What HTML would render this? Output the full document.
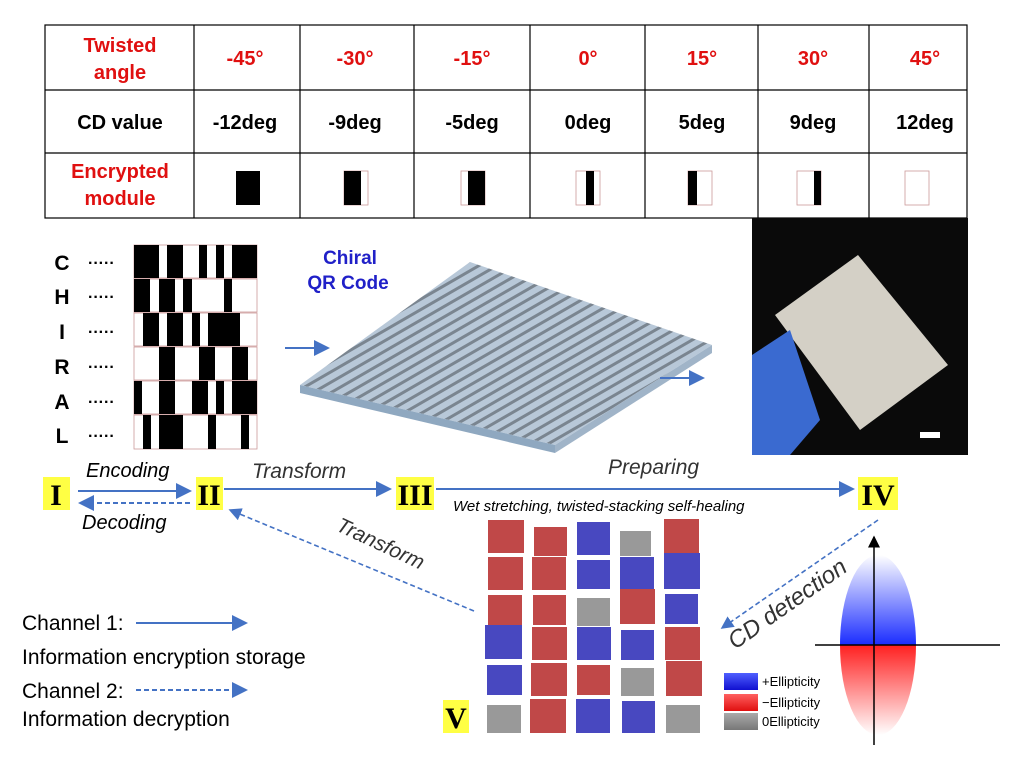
<!DOCTYPE html>
<html><head><meta charset="utf-8"><style>
body{margin:0;background:#fff;}
</style></head><body>
<svg width="1024" height="758" viewBox="0 0 1024 758" xmlns="http://www.w3.org/2000/svg" font-family="Liberation Sans, sans-serif">
<defs>
<linearGradient id="el" x1="0" y1="0" x2="0" y2="1">
<stop offset="0" stop-color="#fff"/><stop offset="0.5" stop-color="#1a2cff"/><stop offset="0.5" stop-color="#ff2020"/><stop offset="1" stop-color="#fff"/></linearGradient>
<linearGradient id="lb" x1="0" y1="0" x2="0" y2="1"><stop offset="0" stop-color="#5060ff"/><stop offset="1" stop-color="#1010d0"/></linearGradient>
<linearGradient id="lr" x1="0" y1="0" x2="0" y2="1"><stop offset="0" stop-color="#ff6060"/><stop offset="1" stop-color="#e01010"/></linearGradient>
<linearGradient id="lg" x1="0" y1="0" x2="0" y2="1"><stop offset="0" stop-color="#aaa"/><stop offset="1" stop-color="#777"/></linearGradient>
<pattern id="st" width="9" height="9" patternUnits="userSpaceOnUse" patternTransform="rotate(-30)">
<rect width="9" height="9" fill="#b8c8d8"/><rect width="9" height="3" fill="#7a8590"/></pattern>
<marker id="ah" markerWidth="8" markerHeight="8" refX="7" refY="4" orient="auto"><path d="M0,0 L8,4 L0,8z" fill="#4472c4"/></marker>
<marker id="ak" markerWidth="8" markerHeight="8" refX="7" refY="4" orient="auto"><path d="M0,0 L8,4 L0,8z" fill="#000"/></marker>
</defs>
<!-- table -->
<g stroke="#000" stroke-width="1.2" fill="none">
<rect x="45" y="25" width="922" height="193"/>
<line x1="45" y1="90" x2="967" y2="90"/><line x1="45" y1="153" x2="967" y2="153"/>
<line x1="194" y1="25" x2="194" y2="218"/><line x1="300" y1="25" x2="300" y2="218"/>
<line x1="414" y1="25" x2="414" y2="218"/><line x1="530" y1="25" x2="530" y2="218"/>
<line x1="645" y1="25" x2="645" y2="218"/><line x1="758" y1="25" x2="758" y2="218"/>
<line x1="869" y1="25" x2="869" y2="218"/>
</g>
<g font-size="20" font-weight="bold" fill="#e01010" text-anchor="middle">
<text x="120" y="52">Twisted</text><text x="120" y="79">angle</text>
<text x="245" y="65">-45°</text><text x="355" y="65">-30°</text><text x="472" y="65">-15°</text><text x="588" y="65">0°</text><text x="702" y="65">15°</text><text x="813" y="65">30°</text><text x="925" y="65">45°</text>
<text x="120" y="178">Encrypted</text><text x="120" y="205">module</text>
</g>
<g font-size="20" font-weight="bold" fill="#000" text-anchor="middle">
<text x="120" y="129">CD value</text><text x="245" y="129">-12deg</text><text x="355" y="129">-9deg</text><text x="472" y="129">-5deg</text><text x="588" y="129">0deg</text><text x="702" y="129">5deg</text><text x="813" y="129">9deg</text><text x="925" y="129">12deg</text>
</g>
<g stroke="#c99" stroke-width="0.8">
<rect x="236" y="171" width="24" height="34" fill="#000" stroke="none"/>
<rect x="344" y="171" width="24" height="34" fill="#fff"/><rect x="344" y="171" width="17" height="34" fill="#000" stroke="none"/>
<rect x="461" y="171" width="24" height="34" fill="#fff"/><rect x="468" y="171" width="17" height="34" fill="#000" stroke="none"/>
<rect x="576" y="171" width="24" height="34" fill="#fff"/><rect x="586" y="171" width="8" height="34" fill="#000" stroke="none"/>
<rect x="688" y="171" width="24" height="34" fill="#fff"/><rect x="688" y="171" width="9" height="34" fill="#000" stroke="none"/>
<rect x="797" y="171" width="24" height="34" fill="#fff"/><rect x="814" y="171" width="7" height="34" fill="#000" stroke="none"/>
<rect x="905" y="171" width="24" height="34" fill="#fff"/>
</g>
<!-- letters -->
<g font-size="21" font-weight="bold" text-anchor="middle">
<text x="62" y="270">C</text><text x="62" y="304">H</text><text x="62" y="339">I</text><text x="62" y="374">R</text><text x="62" y="409">A</text><text x="62" y="443">L</text></g>
<g font-size="16" font-weight="bold"><text x="88" y="268">·····</text><text x="88" y="302">·····</text><text x="88" y="337">·····</text><text x="88" y="372">·····</text><text x="88" y="407">·····</text><text x="88" y="441">·····</text></g>
<!-- barcode -->
<g fill="#fff" stroke="#c99" stroke-width="0.8">
<rect x="134" y="245" width="123" height="33"/><rect x="134" y="279" width="123" height="33"/><rect x="134" y="313" width="123" height="33"/><rect x="134" y="347" width="123" height="33"/><rect x="134" y="381" width="123" height="33"/><rect x="134" y="415" width="123" height="34"/></g>
<g fill="#000">
<rect x="134" y="245" width="25" height="33"/><rect x="167" y="245" width="16" height="33"/><rect x="199" y="245" width="8" height="33"/><rect x="216" y="245" width="8" height="33"/><rect x="232" y="245" width="25" height="33"/>
<rect x="134" y="279" width="16" height="33"/><rect x="159" y="279" width="16" height="33"/><rect x="183" y="279" width="9" height="33"/><rect x="224" y="279" width="8" height="33"/>
<rect x="143" y="313" width="16" height="33"/><rect x="167" y="313" width="16" height="33"/><rect x="192" y="313" width="8" height="33"/><rect x="208" y="313" width="32" height="33"/>
<rect x="159" y="347" width="16" height="33"/><rect x="199" y="347" width="16" height="33"/><rect x="232" y="347" width="16" height="33"/>
<rect x="134" y="381" width="8" height="33"/><rect x="159" y="381" width="16" height="33"/><rect x="192" y="381" width="16" height="33"/><rect x="216" y="381" width="8" height="33"/><rect x="232" y="381" width="25" height="33"/>
<rect x="143" y="415" width="8" height="34"/><rect x="159" y="415" width="24" height="34"/><rect x="208" y="415" width="8" height="34"/><rect x="241" y="415" width="8" height="34"/>
</g>
<text x="350" y="264" font-size="19" font-weight="bold" fill="#2020c8" text-anchor="middle">Chiral</text>
<text x="348" y="289" font-size="19" font-weight="bold" fill="#2020c8" text-anchor="middle">QR Code</text>
<line x1="285" y1="348" x2="328" y2="348" stroke="#4472c4" stroke-width="2" marker-end="url(#ah)"/>
<!-- 3D QR -->
<polygon points="300,385 470,262 712,345 555,445" fill="url(#st)"/>
<polygon points="300,385 555,445 555,453 300,393" fill="#8fa8c0"/>
<polygon points="555,445 712,345 712,353 555,453" fill="#a0b4c8"/>
<line x1="660" y1="378" x2="703" y2="378" stroke="#4472c4" stroke-width="2" marker-end="url(#ah)"/>
<!-- photo -->
<rect x="752" y="218" width="216" height="237" fill="#0a0a0a"/>
<polygon points="775,315 858,255 948,365 860,430" fill="#d4d0c6"/>
<polygon points="752,355 790,330 820,420 790,455 752,455" fill="#3a6ad0"/>
<rect x="920" y="432" width="20" height="6" fill="#fff"/>
<!-- roman numerals -->
<g fill="#ffff44"><rect x="43" y="477" width="27" height="33"/><rect x="196" y="477" width="27" height="33"/><rect x="396" y="477" width="38" height="33"/><rect x="858" y="477" width="40" height="33"/><rect x="443" y="700" width="26" height="33"/></g>
<g font-family="Liberation Serif, serif" font-weight="bold" font-size="30" text-anchor="middle">
<text x="56" y="505">I</text><text x="209" y="505">II</text><text x="415" y="505">III</text><text x="878" y="505">IV</text><text x="456" y="728">V</text></g>
<!-- arrows -->
<line x1="78" y1="491" x2="190" y2="491" stroke="#4472c4" stroke-width="2" marker-end="url(#ah)"/>
<line x1="190" y1="503" x2="80" y2="503" stroke="#4472c4" stroke-width="2" stroke-dasharray="5,3" marker-end="url(#ah)"/>
<line x1="224" y1="489" x2="390" y2="489" stroke="#4472c4" stroke-width="2" marker-end="url(#ah)"/>
<line x1="436" y1="489" x2="853" y2="489" stroke="#4472c4" stroke-width="2" marker-end="url(#ah)"/>
<line x1="474" y1="611" x2="230" y2="510" stroke="#4472c4" stroke-width="1.6" stroke-dasharray="5,3" marker-end="url(#ah)"/>
<line x1="878" y1="520" x2="722" y2="628" stroke="#4472c4" stroke-width="1.6" stroke-dasharray="5,3" marker-end="url(#ah)"/>
<g font-style="italic" font-size="20" fill="#000">
<text x="86" y="477">Encoding</text><text x="82" y="529">Decoding</text></g>
<g font-style="italic" font-size="21" fill="#333">
<text x="252" y="478">Transform</text><text x="608" y="474">Preparing</text>
<text transform="translate(335,530) rotate(25)">Transform</text>
<text transform="translate(735,650) rotate(-35)" font-size="24">CD detection</text></g>
<text x="453" y="511" font-style="italic" font-size="15" fill="#000">Wet stretching, twisted-stacking self-healing</text>
<!-- cubes -->
<g>
<rect x="488" y="520" width="36" height="33" fill="#c04848"/><rect x="534" y="527" width="33" height="29" fill="#c04848"/><rect x="577" y="522" width="33" height="33" fill="#4848c0"/><rect x="620" y="531" width="31" height="25" fill="#999"/><rect x="664" y="519" width="35" height="35" fill="#c04848"/>
<rect x="488" y="557" width="35" height="33" fill="#c04848"/><rect x="532" y="557" width="34" height="33" fill="#c04848"/><rect x="577" y="560" width="33" height="29" fill="#4848c0"/><rect x="620" y="557" width="34" height="33" fill="#4848c0"/><rect x="664" y="553" width="36" height="36" fill="#4848c0"/>
<rect x="488" y="595" width="34" height="30" fill="#c04848"/><rect x="533" y="595" width="33" height="30" fill="#c04848"/><rect x="577" y="598" width="33" height="28" fill="#999"/><rect x="620" y="589" width="35" height="35" fill="#c04848"/><rect x="665" y="594" width="33" height="30" fill="#4848c0"/>
<rect x="485" y="625" width="37" height="34" fill="#4848c0"/><rect x="532" y="627" width="35" height="33" fill="#c04848"/><rect x="577" y="627" width="34" height="33" fill="#4848c0"/><rect x="621" y="630" width="33" height="30" fill="#4848c0"/><rect x="665" y="627" width="35" height="33" fill="#c04848"/>
<rect x="487" y="665" width="35" height="30" fill="#4848c0"/><rect x="531" y="663" width="36" height="33" fill="#c04848"/><rect x="577" y="665" width="33" height="30" fill="#c04848"/><rect x="621" y="668" width="33" height="28" fill="#999"/><rect x="666" y="661" width="36" height="35" fill="#c04848"/>
<rect x="487" y="705" width="34" height="28" fill="#999"/><rect x="530" y="699" width="36" height="34" fill="#c04848"/><rect x="576" y="699" width="34" height="34" fill="#4848c0"/><rect x="622" y="701" width="33" height="32" fill="#4848c0"/><rect x="666" y="705" width="34" height="28" fill="#999"/>
</g>
<rect x="724" y="673" width="34" height="17" fill="url(#lb)"/><rect x="724" y="694" width="34" height="17" fill="url(#lr)"/><rect x="724" y="713" width="34" height="17" fill="url(#lg)"/>
<g font-size="13"><text x="762" y="686">+Ellipticity</text><text x="762" y="707">−Ellipticity</text><text x="762" y="726">0Ellipticity</text></g>
<!-- axes -->
<ellipse cx="878" cy="645" rx="38" ry="90" fill="url(#el)"/>
<line x1="874" y1="745" x2="874" y2="537" stroke="#000" stroke-width="1.5" marker-end="url(#ak)"/>
<line x1="815" y1="645" x2="1000" y2="645" stroke="#000" stroke-width="1.5"/>
<!-- left text -->
<g font-size="21" fill="#000"><text x="22" y="630">Channel 1:</text><text x="22" y="664">Information encryption storage</text><text x="22" y="698">Channel 2:</text><text x="22" y="726">Information decryption</text></g>
<line x1="136" y1="623" x2="246" y2="623" stroke="#4472c4" stroke-width="2" marker-end="url(#ah)"/>
<line x1="136" y1="690" x2="246" y2="690" stroke="#4472c4" stroke-width="2" stroke-dasharray="5,3" marker-end="url(#ah)"/>
</svg>
</body></html>
